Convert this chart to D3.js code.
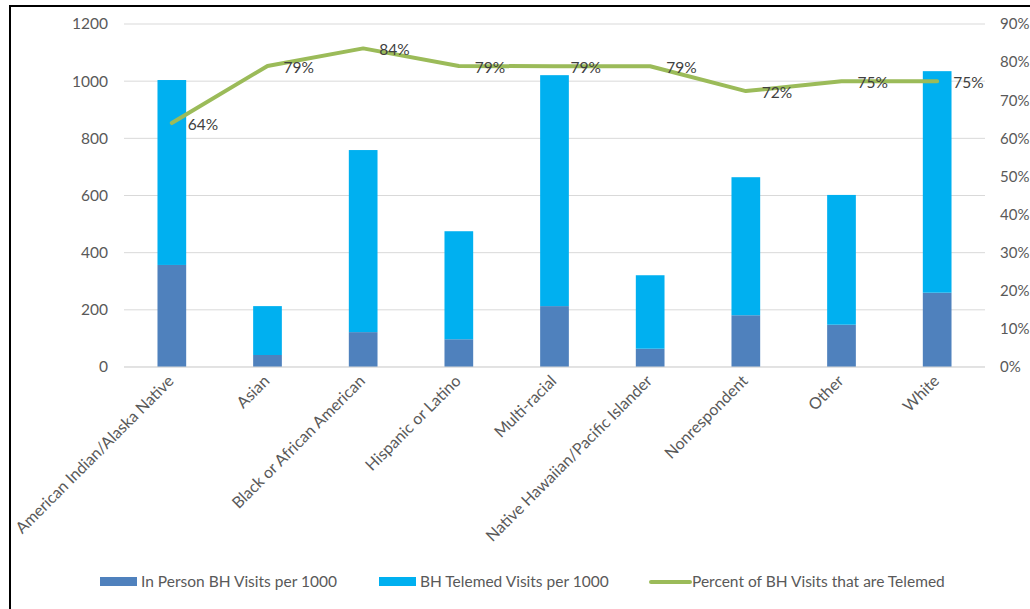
<!DOCTYPE html>
<html><head><meta charset="utf-8">
<script src="https://cdn.jsdelivr.net/npm/d3@7"></script>
<style>body{margin:0;background:#fff}svg{display:block}text{font-family:Lato,"Open Sans",sans-serif}</style>
</head><body><svg id="c" width="1030" height="609"></svg>
<script>
const categories = ["American Indian/Alaska Native","Asian","Black or African American","Hispanic or Latino","Multi-racial","Native Hawaiian/Pacific Islander","Nonrespondent","Other","White"];
const inPerson = [357, 42, 122, 97, 213, 64, 181, 148, 260];
const telemed = [647, 171, 637, 378, 808, 257, 483, 454, 775];
const pctTelemed = [0.64, 0.79, 0.836, 0.79, 0.789, 0.789, 0.724, 0.75, 0.75];
const leftTicks = [0, 200, 400, 600, 800, 1000, 1200];
const rightTicks = [0, 0.1, 0.2, 0.3, 0.4, 0.5, 0.6, 0.7, 0.8, 0.9];
const seriesNames = ["In Person BH Visits per 1000","BH Telemed Visits per 1000","Percent of BH Visits that are Telemed"];

const svg = d3.select("#c");
const L = 124, R = 985, T = 24, B = 367;
const x = d3.scaleBand().domain(categories).range([L, R]).paddingInner(0.7).paddingOuter(0.35);
const y = d3.scaleLinear().domain([0, 1200]).range([B, T]);
const y2 = d3.scaleLinear().domain([0, 0.9]).range([B, T]);
const c1 = "#4f81bd", c2 = "#00b0f0", c3 = "#9bbb59", tc = "#595959";
const fs = "15.5px";

// border
svg.append("path").attr("d", `M10,609 V6 H1030`).attr("fill","none").attr("stroke","#000").attr("stroke-width",2);

// gridlines
svg.append("g").selectAll("line").data(leftTicks).join("line")
  .attr("x1", L).attr("x2", R).attr("y1", d => y(d)).attr("y2", d => y(d))
  .attr("stroke", "#d9d9d9").attr("stroke-width", 1);

// left axis
const ga = svg.append("g").attr("transform", `translate(${L},0)`)
  .call(d3.axisLeft(y).tickValues(leftTicks).tickSize(0).tickPadding(16).tickFormat(d3.format("d")));
ga.select(".domain").remove();
ga.selectAll("text").attr("fill", tc).style("font-size", fs).style("font-family","Lato,sans-serif");

// right axis
const gb = svg.append("g").attr("transform", `translate(${R},0)`)
  .call(d3.axisRight(y2).tickValues(rightTicks).tickSize(0).tickPadding(15).tickFormat(d3.format(".0%")));
gb.select(".domain").remove();
gb.selectAll("text").attr("fill", tc).style("font-size", "15px").style("font-family","Lato,sans-serif");

// bars
const gBars = svg.append("g");
gBars.selectAll("rect.ip").data(categories).join("rect").attr("class","ip")
  .attr("x", d => x(d)).attr("width", x.bandwidth())
  .attr("y", (d,i) => y(inPerson[i])).attr("height", (d,i) => y(0) - y(inPerson[i]))
  .attr("fill", c1);
gBars.selectAll("rect.tm").data(categories).join("rect").attr("class","tm")
  .attr("x", d => x(d)).attr("width", x.bandwidth())
  .attr("y", (d,i) => y(inPerson[i] + telemed[i])).attr("height", (d,i) => y(inPerson[i]) - y(inPerson[i] + telemed[i]))
  .attr("fill", c2);

// baseline
svg.append("line").attr("x1", L).attr("x2", R).attr("y1", B).attr("y2", B).attr("stroke", "#d9d9d9").attr("stroke-width", 1);

// line
const cx = d => x(d) + x.bandwidth() / 2;
const line = d3.line().x((d,i) => cx(categories[i])).y(d => y2(d));
svg.append("path").datum(pctTelemed).attr("d", line).attr("fill","none")
  .attr("stroke", c3).attr("stroke-width", 4).attr("stroke-linecap","round").attr("stroke-linejoin","round");

// data labels
svg.append("g").selectAll("text").data(pctTelemed).join("text")
  .attr("x", (d,i) => cx(categories[i]) + 16).attr("y", d => y2(d) + 7)
  .attr("fill", "#404040").style("font-size", fs)
  .text(d => d3.format(".0%")(d));

// category labels
svg.append("g").selectAll("text").data(categories).join("text")
  .attr("transform", d => `translate(${cx(d) + 3},${382}) rotate(-45)`)
  .attr("text-anchor", "end").attr("fill", tc).style("font-size", "16px")
  .text(d => d);

// legend
const lg = svg.append("g");
const legendItems = [
  {name: seriesNames[0], color: c1, type: "rect", x: 100},
  {name: seriesNames[1], color: c2, type: "rect", x: 379},
  {name: seriesNames[2], color: c3, type: "line", x: 651}
];
legendItems.forEach(it => {
  if (it.type === "rect") {
    lg.append("rect").attr("x", it.x).attr("y", 577).attr("width", 37).attr("height", 9).attr("fill", it.color);
  } else {
    lg.append("line").attr("x1", it.x).attr("x2", it.x + 39).attr("y1", 582).attr("y2", 582)
      .attr("stroke", it.color).attr("stroke-width", 4).attr("stroke-linecap","round");
  }
  lg.append("text").attr("x", it.x + 41).attr("y", 587).attr("fill", tc).style("font-size", fs).text(it.name);
});
</script></body></html>
